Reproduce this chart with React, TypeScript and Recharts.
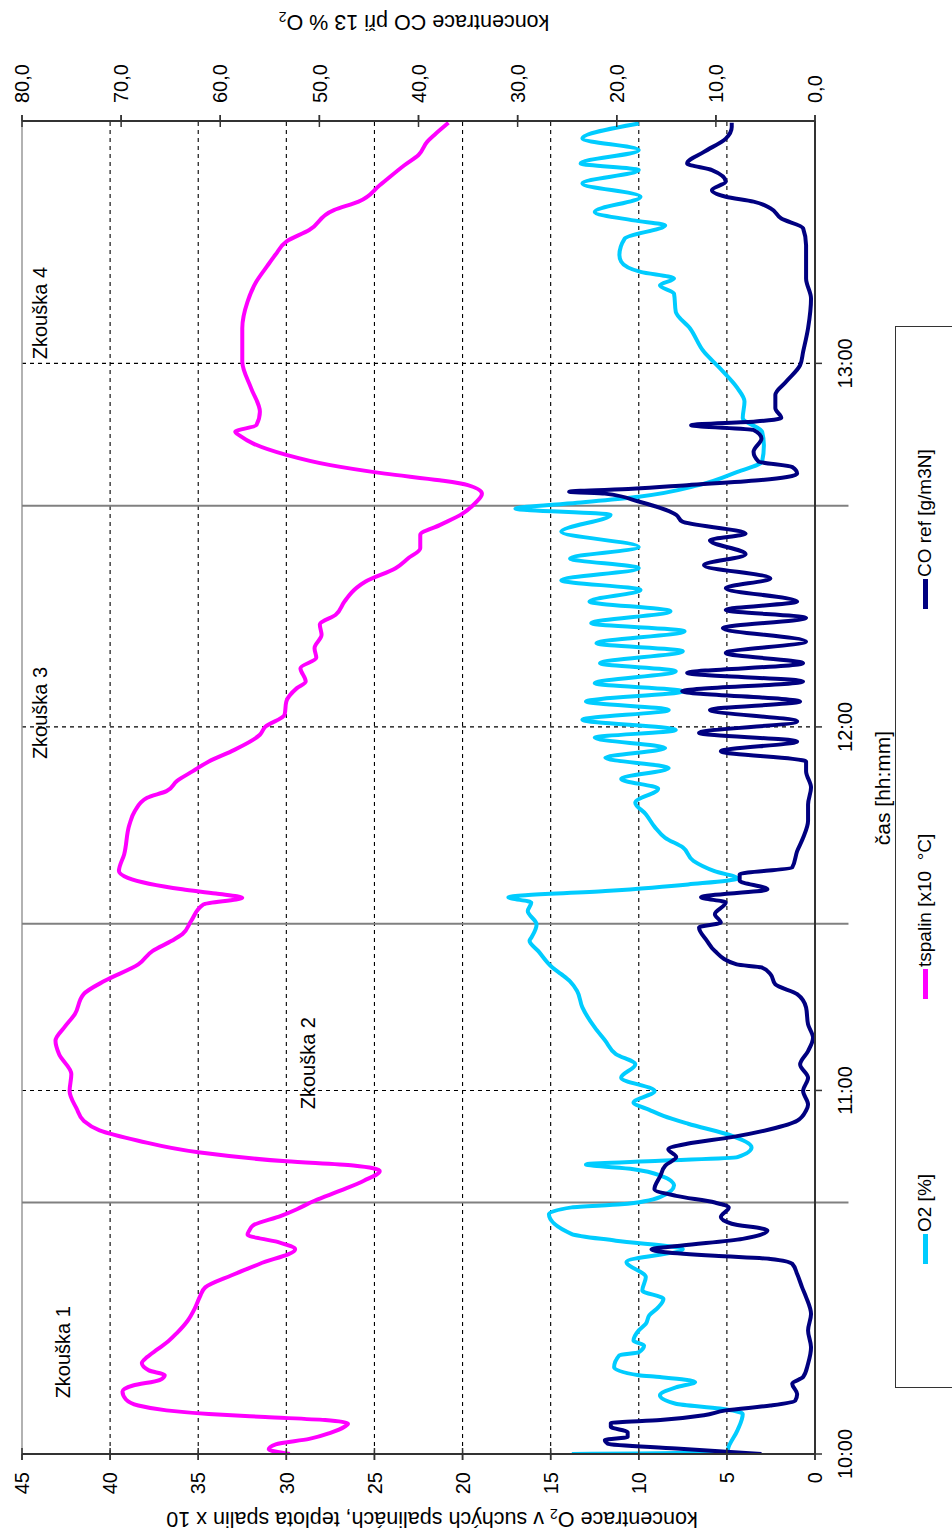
import React from 'react';
import { CartesianGrid, Line, LineChart, ReferenceDot, ReferenceLine, XAxis, YAxis } from 'recharts';

// Time is minutes after 10:00. Pairs are [minute, value].
const O2: [number, number][] = [
  [0, 13.8], [0.3, 5.0], [1.2, 4.9], [3.9, 4.4], [6.6, 4.1], [7.5, 5.4], [8.3, 7.9], [9.7, 8.8],
  [11.0, 7.9], [11.9, 6.8], [12.7, 8.8], [13.0, 10.0], [14.3, 11.4], [16.3, 11.1], [16.8, 10.0],
  [17.9, 9.7], [18.7, 10.3], [20.4, 10.0], [21.5, 9.6], [22.9, 9.4], [24.2, 8.9], [25.6, 8.6],
  [27.0, 9.8], [29.2, 9.6], [31.7, 10.7], [33.8, 7.5], [35.2, 11.3], [36.3, 13.8], [39.6, 15.1],
  [40.7, 13.8], [41.2, 11.0], [42.4, 8.8], [44.3, 8.0], [46.0, 8.8], [47.0, 10.3], [47.8, 13.0],
  [48.4, 8.8], [49.0, 4.4], [50.6, 3.6], [52.5, 4.7], [54.5, 7.2], [55.8, 8.6], [56.8, 9.4],
  [58.0, 10.3], [59.9, 9.1], [62.1, 11.0], [64.3, 10.2], [66.0, 11.3], [68.2, 11.9], [70.4, 12.5],
  [73.7, 13.2], [76.4, 13.5], [78.0, 13.9], [79.2, 14.4], [80.3, 14.9], [83.0, 15.7], [84.7, 16.2],
  [85.2, 16.1], [87.4, 15.8], [89.6, 16.3], [91.0, 16.1], [91.9, 17.4], [92.9, 11.9], [94.0, 7.2],
  [95.0, 4.4], [96.2, 5.7], [97.9, 6.9], [100.1, 7.5], [101.7, 8.5], [103.5, 9.1], [105.6, 9.6],
  [107.5, 10.2], [109.8, 8.9], [111.4, 11.0], [113.2, 8.3], [114.9, 11.9], [116.5, 8.5], [118.2, 12.5],
  [119.5, 7.9], [121.2, 13.2], [122.8, 8.3], [124.2, 13.0], [125.9, 7.5], [127.2, 12.5], [129.2, 7.9],
  [130.5, 12.2], [132.5, 7.5], [133.8, 12.4], [135.8, 7.4], [137.1, 12.7], [139.1, 8.2], [140.7, 12.8],
  [142.6, 9.9], [144.2, 14.4], [146.2, 10.0], [147.8, 13.9], [149.7, 10.0], [152.2, 14.4], [155.0, 11.6],
  [156.0, 17.0], [157.0, 13.5], [158.0, 10.0], [159.9, 6.6], [162.1, 4.4], [163.8, 3.0], [166.5, 2.9],
  [168.7, 3.0], [171.0, 4.1], [173.7, 4.0], [175.9, 4.4], [179.2, 5.4], [181.9, 6.3], [185.8, 7.1],
  [188.5, 7.9], [191.5, 8.0], [192.9, 8.8], [194.0, 8.0], [195.1, 9.9], [196.8, 11.0], [197.9, 11.1],
  [200.6, 10.8], [202.8, 8.5], [203.6, 10.3], [205.0, 12.5], [207.5, 9.9], [209.7, 13.2], [211.9, 10.0],
  [213.0, 13.3], [215.2, 10.0], [217.1, 13.2], [219.6, 10.0],
];

const TSPALIN: [number, number][] = [
  [0, 29.8], [0.8, 31.0], [1.6, 30.6], [2.5, 28.7], [3.5, 27.5], [4.5, 26.7], [5.0, 26.5], [5.6, 27.8],
  [6.1, 31.2], [6.6, 34.4], [7.2, 36.8], [8.0, 38.4], [9.0, 39.1], [10.3, 39.3], [11.3, 38.7],
  [12.2, 37.2], [13.0, 36.9], [13.8, 37.8], [15.0, 38.2], [16.0, 37.9], [17.3, 37.3], [18.6, 36.7],
  [20.0, 36.2], [22.0, 35.6], [24.0, 35.2], [26.0, 34.9], [27.5, 34.6], [29.5, 33.1], [31.4, 31.5],
  [33.8, 29.5], [35.0, 30.5], [36.2, 32.2], [36.9, 32.1], [37.7, 31.9], [39.3, 30.3], [40.4, 29.4],
  [41.8, 28.4], [43.5, 26.9], [45.1, 25.6], [46.7, 24.7], [47.6, 26.2], [48.3, 30.0], [49.8, 35.0],
  [51.7, 38.4], [53.4, 40.6], [55.0, 41.5], [57.0, 41.9], [59.9, 42.3], [62.7, 42.2], [66.0, 42.9],
  [68.2, 43.1], [70.4, 42.6], [72.6, 42.0], [75.9, 41.5], [78.1, 40.3], [80.8, 38.4], [83.0, 37.6],
  [84.7, 36.5], [85.8, 35.9], [88.0, 35.4], [90.7, 34.7], [91.8, 32.5], [92.5, 34.0], [93.2, 35.9],
  [95.1, 39.0], [96.2, 39.5], [99.0, 39.2], [103.9, 38.9], [106.1, 38.6], [108.3, 37.9], [109.4, 36.8],
  [111.1, 36.2], [112.7, 35.3], [114.3, 34.4], [116.0, 33.1], [118.7, 31.5], [120.0, 31.2],
  [122.0, 30.1], [124.2, 30.0], [126.4, 29.4], [127.5, 28.9], [129.7, 29.2], [131.4, 28.3],
  [133.0, 28.4], [135.2, 28.0], [136.9, 28.1], [138.5, 27.2], [140.7, 26.7], [143.0, 26.0],
  [144.0, 25.5], [146.2, 23.8], [147.8, 23.1], [149.5, 22.4], [151.7, 22.4], [153.3, 21.3],
  [155.2, 20.0], [156.9, 19.3], [158.5, 18.9], [159.9, 19.7], [160.7, 21.3], [161.8, 24.4],
  [163.2, 27.5], [164.9, 30.0], [166.8, 31.9], [168.0, 32.6], [168.7, 32.9], [169.8, 31.7],
  [172.0, 31.5], [175.9, 32.0], [180.3, 32.5], [185.8, 32.5], [190.2, 32.2], [193.5, 31.7],
  [196.0, 31.1], [198.0, 30.6], [200.1, 30.0], [202.0, 28.7], [205.3, 27.3], [206.7, 25.9],
  [209.4, 24.7], [212.7, 23.3], [214.4, 22.5], [216.6, 22.0], [217.7, 21.6], [219.7, 20.8],
];

const CO_REF: [number, number][] = [
  [0, 5.4], [0.9, 14.0], [1.7, 20.9], [2.3, 21.2], [2.8, 18.9], [3.6, 18.9], [4.5, 20.6], [5.1, 20.6],
  [5.6, 15.6], [6.4, 11.2], [7.2, 9.0], [8.0, 4.5], [8.8, 2.0], [9.9, 1.8], [11.6, 2.3], [12.7, 1.2],
  [14.9, 0.7], [17.6, 0.4], [20.4, 0.7], [23.1, 0.4], [25.9, 0.9], [27.5, 1.3], [29.7, 1.8],
  [31.4, 2.3], [32.2, 4.5], [32.7, 10.1], [33.3, 15.1], [33.8, 16.5], [34.4, 13.4], [35.5, 7.3],
  [36.9, 4.8], [38.0, 8.4], [39.1, 9.5], [40.7, 8.7], [41.5, 10.1], [42.6, 14.0], [43.7, 16.2],
  [45.9, 15.6], [47.6, 15.1], [49.0, 14.0], [50.3, 14.8], [51.2, 12.9], [52.3, 8.4], [53.6, 4.5],
  [55.0, 1.8], [56.7, 0.9], [57.7, 0.7], [59.9, 1.2], [62.1, 0.7], [64.3, 1.5], [66.5, 0.7],
  [68.7, 0.2], [70.9, 0.7], [73.7, 0.9], [75.9, 1.8], [77.5, 4.0], [79.2, 4.5], [80.3, 5.4],
  [80.8, 7.9], [83.0, 10.1], [84.7, 10.9], [86.9, 11.7], [87.7, 9.5], [89.1, 10.1], [91.0, 9.0],
  [91.9, 11.5], [93.2, 4.8], [94.6, 7.6], [95.7, 7.6], [96.8, 2.3], [99.5, 1.8], [101.7, 1.2],
  [104.5, 0.7], [107.2, 0.7], [110.0, 0.4], [112.7, 0.9], [114.3, 0.9], [116.0, 9.5], [117.6, 1.8],
  [119.0, 11.7], [120.9, 1.8], [122.8, 10.6], [124.2, 1.5], [125.9, 13.4], [127.5, 1.2], [128.9, 12.9],
  [130.5, 1.2], [132.2, 9.0], [134.1, 0.9], [136.3, 9.3], [138.0, 0.9], [139.3, 9.0], [140.7, 1.8],
  [142.9, 9.0], [144.5, 4.5], [146.7, 11.2], [148.5, 7.0], [150.8, 10.6], [151.9, 7.0], [153.9, 13.4],
  [155.0, 14.0], [157.2, 17.8], [158.5, 21.2], [158.8, 24.8], [159.3, 18.4], [159.9, 12.9],
  [160.7, 5.7], [161.8, 1.8], [162.9, 2.3], [163.8, 5.7], [165.4, 6.2], [167.6, 5.4], [169.0, 6.2],
  [169.8, 12.5], [170.4, 6.0], [171.0, 3.4], [172.6, 4.0], [174.8, 4.0], [177.0, 2.9], [179.7, 1.5],
  [181.9, 1.2], [185.8, 0.7], [190.7, 0.4], [194.0, 0.9], [196.8, 0.9], [199.5, 0.9], [202.3, 1.2],
  [203.9, 3.4], [205.6, 4.5], [206.7, 6.2], [207.5, 9.0], [208.6, 10.4], [210.0, 9.0], [211.9, 10.4],
  [213.0, 12.9], [214.9, 11.2], [217.1, 9.0], [219.0, 8.4], [219.7, 8.4],
];

const TIME_TICKS = [0, 60, 120, 180];
const LEFT_TICKS = [0, 5, 10, 15, 20, 25, 30, 35, 40, 45];
const CO_TICKS = [0, 10, 20, 30, 40, 50, 60, 70, 80];
const TEST_STARTS = [41.5, 87.5, 156.5];
const TEST_NAMES = ['Zkouška 1', 'Zkouška 2', 'Zkouška 3', 'Zkouška 4'];
const TEST_NAME_TIME = [16.8, 64.5, 122.3, 188.3];
const TEST_NAME_LEVEL = [42.7, 28.8, 44.0, 44.0];

const C_O2 = '#00ccff';
const C_TSPALIN = '#ff00ff';
const C_CO = '#000080';
const AXIS = '#333333';
const FONT = '"Liberation Sans", Arial, sans-serif';

// the chart is laid out in landscape and turned a quarter to the left on the page
const W = 1535;
const H = 952;

const rows = (pts: [number, number][]) => pts.map(([t, v]) => ({ t, v }));
const fmtTime = (t: number) => `${10 + Math.floor(t / 60)}:${String(t % 60).padStart(2, '0')}`;
const fmtComma = (v: number) => v.toFixed(1).replace('.', ',');

function LeftTick({ x, y, payload }: any) {
  return (
    <g>
      <line x1={x + 12} x2={x + 24} y1={y} y2={y} stroke={AXIS} strokeWidth={1.5} />
      <text x={x} y={y} dy="0.36em" textAnchor="end" fontSize={20} fill="#000" fontFamily={FONT}>
        {payload.value}
      </text>
    </g>
  );
}

function RightTick({ x, y, payload }: any) {
  return (
    <g>
      <line x1={x - 24} x2={x - 12} y1={y} y2={y} stroke={AXIS} strokeWidth={1.5} />
      <text x={x} y={y} dy="0.36em" textAnchor="start" fontSize={20} fill="#000" fontFamily={FONT}>
        {fmtComma(payload.value)}
      </text>
    </g>
  );
}

const LEGEND = [
  { label: 'O2 [%]', color: C_O2, left: 270 },
  { label: 'tspalin [x10  °C]', color: C_TSPALIN, left: 535 },
  { label: 'CO ref [g/m3N]', color: C_CO, left: 925 },
];

export default function App() {
  return (
    <div style={{ position: 'absolute', left: 0, top: 0, width: 952, height: 1535, overflow: 'hidden', background: '#fff' }}>
      <div
        style={{
          position: 'absolute',
          left: 0,
          top: 0,
          width: W,
          height: H,
          transformOrigin: '0 0',
          transform: `translate(0px, ${W}px) rotate(-90deg)`,
          fontFamily: FONT,
        }}
      >
        <LineChart width={W} height={H} margin={{ top: 22, right: 61, bottom: 77, left: 21 }}>
          <CartesianGrid
            stroke="#000"
            strokeWidth={1.1}
            strokeDasharray="4 4"
            horizontalValues={LEFT_TICKS.slice(1, -1)}
            verticalValues={TIME_TICKS.slice(1)}
          />
          <XAxis
            type="number"
            dataKey="t"
            domain={[0, 220]}
            ticks={TIME_TICKS}
            tickFormatter={fmtTime}
            allowDataOverflow
            height={60}
            tickSize={7}
            tickMargin={16}
            axisLine={{ stroke: AXIS, strokeWidth: 2 }}
            tickLine={{ stroke: AXIS, strokeWidth: 1.5 }}
            tick={{ fontSize: 20, fill: '#000', fontFamily: FONT }}
          />
          <YAxis
            type="number"
            domain={[0, 45]}
            ticks={LEFT_TICKS}
            width={60}
            tickSize={6}
            tickMargin={12}
            axisLine={{ stroke: AXIS, strokeWidth: 2 }}
            tickLine={{ stroke: AXIS, strokeWidth: 1.5 }}
            tick={<LeftTick />}
          />
          <YAxis
            yAxisId="co"
            orientation="right"
            type="number"
            domain={[0, 80]}
            ticks={CO_TICKS}
            width={60}
            tickSize={6}
            tickMargin={12}
            axisLine={{ stroke: AXIS, strokeWidth: 2 }}
            tickLine={{ stroke: AXIS, strokeWidth: 1.5 }}
            tick={<RightTick />}
          />
          <ReferenceLine y={45} stroke="#999" strokeWidth={1.5} />
          {TEST_STARTS.map((t) => (
            <ReferenceLine
              key={t}
              segment={[{ x: t, y: -1.9 }, { x: t, y: 45 }]}
              ifOverflow="visible"
              stroke="#808080"
              strokeWidth={2}
            />
          ))}
          {TEST_NAMES.map((name, i) => (
            <ReferenceDot
              key={name}
              x={TEST_NAME_TIME[i]}
              y={TEST_NAME_LEVEL[i]}
              r={0}
              fill="none"
              stroke="none"
              label={{ value: name, position: 'center', fontSize: 20, fill: '#000', fontFamily: FONT }}
            />
          ))}
          <Line
            data={rows(O2)}
            dataKey="v"
            name="O2 [%]"
            type="monotone"
            stroke={C_O2}
            strokeWidth={4}
            dot={false}
            isAnimationActive={false}
          />
          <Line
            data={rows(TSPALIN)}
            dataKey="v"
            name="tspalin [x10 °C]"
            type="monotone"
            stroke={C_TSPALIN}
            strokeWidth={4}
            dot={false}
            isAnimationActive={false}
          />
          <Line
            data={rows(CO_REF)}
            dataKey="v"
            yAxisId="co"
            name="CO ref [g/m3N]"
            type="monotone"
            stroke={C_CO}
            strokeWidth={4}
            dot={false}
            isAnimationActive={false}
          />
        </LineChart>

        <svg width={W} height={H} style={{ position: 'absolute', left: 0, top: 0, pointerEvents: 'none' }}>
          <text
            transform="translate(16 432) rotate(-90)"
            textAnchor="middle"
            dominantBaseline="central"
            fontSize={21.5}
            fontFamily={FONT}
            fill="#000"
          >
            koncentrace O<tspan dy={5} fontSize={14}>2</tspan>
            <tspan dy={-5}> v suchých spalinách, teplota spalin x 10</tspan>
          </text>
          <text
            transform="translate(1513 414) rotate(-90)"
            textAnchor="middle"
            dominantBaseline="central"
            fontSize={21.5}
            fontFamily={FONT}
            fill="#000"
          >
            koncentrace CO při 13 % O<tspan dy={5} fontSize={14}>2</tspan>
          </text>
          <text x={747} y={882} textAnchor="middle" dominantBaseline="central" fontSize={21} fontFamily={FONT} fill="#000">
            čas [hh:mm]
          </text>
        </svg>

        <div
          style={{
            position: 'absolute',
            left: 147,
            top: 895,
            width: 1060,
            height: 80,
            border: '1.5px solid #333',
            background: '#fff',
          }}
        >
          {LEGEND.map((item) => (
            <div
              key={item.label}
              style={{
                position: 'absolute',
                left: item.left - 147,
                top: 18,
                display: 'flex',
                alignItems: 'center',
                fontSize: 19,
                whiteSpace: 'pre',
                color: '#000',
              }}
            >
              <span style={{ display: 'inline-block', width: 30, height: 5, background: item.color, marginRight: 2 }} />
              {item.label}
            </div>
          ))}
        </div>
      </div>
    </div>
  );
}
